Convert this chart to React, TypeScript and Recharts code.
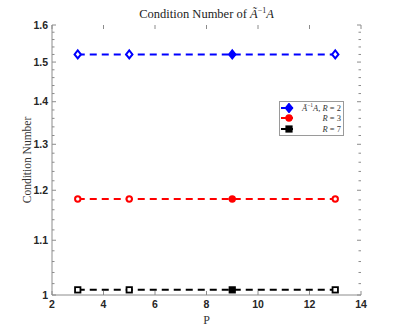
import React from 'react';
import { LineChart, Line, XAxis, YAxis, Legend } from 'recharts';

// values (log y axis)
const pValues = [3, 5, 9, 13];
const r2Values = [1.52, 1.52, 1.52, 1.52];
const r3Values = [1.182, 1.182, 1.182, 1.182];
const r7Values = [1.009, 1.009, 1.009, 1.009];
const filledAt = [9];

const xTicks = [2, 4, 6, 8, 10, 12, 14];
const yMajor = [1, 1.1, 1.2, 1.3, 1.4, 1.5, 1.6];
const yMinor = [
  1.02, 1.04, 1.06, 1.08, 1.12, 1.14, 1.16, 1.18, 1.22, 1.24, 1.26, 1.28,
  1.32, 1.34, 1.36, 1.38, 1.42, 1.44, 1.46, 1.48, 1.52, 1.54, 1.56, 1.58,
];

const data = pValues.map((p, i) => ({ P: p, r2: r2Values[i], r3: r3Values[i], r7: r7Values[i] }));

const series = [
  { key: 'r2', label: 'R = 2', color: '#0000ff', shape: 'diamond' },
  { key: 'r3', label: 'R = 3', color: '#ff0000', shape: 'circle' },
  { key: 'r7', label: 'R = 7', color: '#000000', shape: 'square' },
];

const W = 399;
const H = 332;
const LEFT = 52;
const RIGHT = 361;
const TOP = 25;
const BOTTOM = 295;
const AXIS = '#8c8c8c';
const SANS = '"Liberation Sans", Arial, sans-serif';
const SERIF = '"Liberation Serif", "Times New Roman", serif';

function Marker({ cx, cy, shape, color, filled }: any) {
  if (cx == null || cy == null) return null;
  const fill = filled ? color : '#fff';
  if (shape === 'diamond') {
    return (
      <polygon
        points={`${cx},${cy - 4} ${cx + 3.2},${cy} ${cx},${cy + 4} ${cx - 3.2},${cy}`}
        fill={fill}
        stroke={color}
        strokeWidth={2}
      />
    );
  }
  if (shape === 'circle') {
    return <circle cx={cx} cy={cy} r={2.7} fill={fill} stroke={color} strokeWidth={2} />;
  }
  return <rect x={cx - 2.7} y={cy - 2.7} width={5.4} height={5.4} fill={fill} stroke={color} strokeWidth={1.8} />;
}

function YTick(props: any) {
  const { y, payload } = props;
  const v = payload.value;
  const major = yMajor.includes(v);
  const len = major ? 4 : 2.5;
  return (
    <g>
      <line x1={LEFT} x2={LEFT + len} y1={y} y2={y} stroke={AXIS} />
      <line x1={RIGHT} x2={RIGHT - len} y1={y} y2={y} stroke={AXIS} />
      {major && (
        <text x={LEFT - 4} y={y} dy="0.35em" textAnchor="end" fontFamily={SANS} fontWeight="bold" fontSize={10.5} fill="#262626">
          {v}
        </text>
      )}
    </g>
  );
}

function XTick(props: any) {
  const { x, payload } = props;
  return (
    <g>
      <line x1={x} x2={x} y1={BOTTOM} y2={BOTTOM - 4} stroke={AXIS} />
      <line x1={x} x2={x} y1={TOP} y2={TOP + 4} stroke={AXIS} />
      <text x={x} y={BOTTOM + 5} dy="0.75em" textAnchor="middle" fontFamily={SANS} fontWeight="bold" fontSize={10.5} fill="#262626">
        {payload.value}
      </text>
    </g>
  );
}

function LegendBox() {
  return (
    <div
      style={{
        border: '1px solid #9a9a9a',
        background: '#fff',
        width: 60,
        padding: '1px 2px 1px 1px',
        fontFamily: SERIF,
        fontSize: 8.5,
        lineHeight: '10.3px',
        color: '#333',
      }}
    >
      {series.map((s, i) => (
        <div key={s.key} style={{ display: 'flex', alignItems: 'center' }}>
          <svg width={14} height={10} style={{ flex: 'none' }}>
            <line x1={0} x2={12} y1={5} y2={5} stroke={s.color} strokeWidth={2} />
            <Marker cx={8} cy={5} shape={s.shape} color={s.color} filled />
          </svg>
          <span style={{ flex: 1, textAlign: 'right', whiteSpace: 'nowrap' }}>
            {i === 0 && (
              <>
                <i>Ã</i>
                <sup style={{ fontSize: 5.5, lineHeight: 0 }}>−1</sup>
                <i>A</i>,{' '}
              </>
            )}
            <i>R</i> = {s.label.split('= ')[1]}
          </span>
        </div>
      ))}
    </div>
  );
}

export default function App() {
  return (
    <div style={{ position: 'absolute', left: 0, top: 0, width: W, height: H, background: '#fff' }}>
      <div
        style={{
          position: 'absolute',
          left: LEFT,
          width: RIGHT - LEFT,
          top: 7,
          textAlign: 'center',
          fontFamily: SERIF,
          fontSize: 12.5,
          color: '#222',
          zIndex: 2,
        }}
      >
        Condition Number of <i>Ã</i>
        <sup style={{ fontSize: 8, lineHeight: 0 }}>−1</sup>
        <i>A</i>
      </div>
      <div
        style={{
          position: 'absolute',
          left: 27,
          top: (TOP + BOTTOM) / 2,
          transform: 'translate(-50%, -50%) rotate(-90deg)',
          whiteSpace: 'nowrap',
          fontFamily: SERIF,
          fontSize: 11.5,
          lineHeight: '13px',
          color: '#333',
          zIndex: 2,
        }}
      >
        Condition Number
      </div>
      <LineChart width={W} height={H} data={data} margin={{ top: TOP, right: W - RIGHT, bottom: 0, left: 0 }}>
        <XAxis
          dataKey="P"
          type="number"
          domain={[2, 14]}
          ticks={xTicks}
          height={H - BOTTOM}
          tickSize={0}
          tickMargin={5}
          axisLine={{ stroke: AXIS }}
          tick={<XTick />}
          label={{ value: 'P', position: 'insideBottom', offset: 8, style: { fontFamily: SERIF, fontSize: 12, fill: '#333' } }}
        />
        <XAxis xAxisId="top" orientation="top" type="number" domain={[2, 14]} height={0} tick={false} tickLine={false} axisLine={{ stroke: AXIS }} />
        <YAxis
          type="number"
          scale="log"
          domain={[1, 1.6]}
          ticks={[...yMajor, ...yMinor]}
          allowDataOverflow
          width={LEFT}
          tickSize={0}
          tickMargin={4}
          interval={0}
          axisLine={{ stroke: AXIS }}
          tick={<YTick />}
        />
        <YAxis yAxisId="right" orientation="right" type="number" scale="log" domain={[1, 1.6]} width={0} tick={false} tickLine={false} axisLine={{ stroke: AXIS }} />
        <Legend
          layout="horizontal"
          verticalAlign="middle"
          align="center"
          content={() => <LegendBox />}
          wrapperStyle={{ position: 'absolute', left: 279, top: 101, width: 'auto' }}
        />
        {series.map((s) => (
          <Line
            key={s.key}
            dataKey={s.key}
            name={s.label}
            stroke={s.color}
            strokeWidth={2}
            strokeDasharray="7 5"
            isAnimationActive={false}
            dot={(props: any) => (
              <Marker
                key={`${s.key}-${props.index}`}
                cx={props.cx}
                cy={props.cy}
                shape={s.shape}
                color={s.color}
                filled={filledAt.includes(props.payload.P)}
              />
            )}
            activeDot={false}
          />
        ))}
      </LineChart>
    </div>
  );
}
